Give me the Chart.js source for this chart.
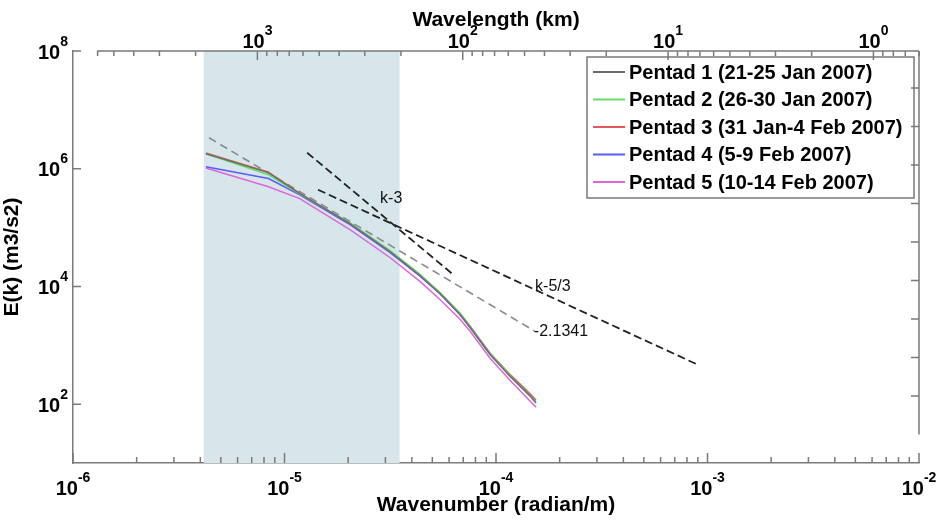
<!DOCTYPE html>
<html>
<head>
<meta charset="utf-8">
<script src="https://cdn.jsdelivr.net/npm/chart.js@4"></script>
<style>
  body { margin: 0; background: #fff; }
  canvas { display: block; }
</style>
</head>
<body>
<canvas id="myChart" width="938" height="525"></canvas>
<script>
// wavenumber (radian/m) sampled along the spectra
const wavenumber = [4.25e-6, 8.4e-6, 1.18e-5, 2.04e-5, 3.15e-5, 4.37e-5, 5.43e-5, 6.76e-5, 7.54e-5, 9.37e-5, 1.165e-4, 1.45e-4, 1.545e-4]

// E(k) (m3/s2) for each pentad
const pentad1 = [1.79e6, 8.6e5, 3.77e5, 1.17e5, 3.92e4, 1.53e4, 7.6e3, 3.35e3, 2.02e3, 703, 299, 137, 104]
const pentad2 = [1.8e6, 7.9e5, 3.7e5, 1.2e5, 4.1e4, 1.6e4, 7.9e3, 3.5e3, 2.1e3, 730, 310, 140, 108]
const pentad3 = [1.85e6, 8.7e5, 3.8e5, 1.18e5, 4.0e4, 1.58e4, 7.8e3, 3.5e3, 2.1e3, 740, 320, 150, 118]
const pentad4 = [1.08e6, 6.8e5, 3.6e5, 1.12e5, 3.8e4, 1.5e4, 7.5e3, 3.3e3, 2.0e3, 700, 300, 142, 110]
const pentad5 = [1.03e6, 4.95e5, 3.1e5, 9.25e4, 3.1e4, 1.22e4, 6.0e3, 2.76e3, 1.73e3, 603, 255, 112, 89]

const pentadLabels = [
  'Pentad 1 (21-25 Jan 2007)',
  'Pentad 2 (26-30 Jan 2007)',
  'Pentad 3 (31 Jan-4 Feb 2007)',
  'Pentad 4 (5-9 Feb 2007)',
  'Pentad 5 (10-14 Feb 2007)',
]
const pentadColors = ['#6e6e6e', '#66dd66', '#e05a5a', '#5a5aff', '#dd66dd']

// reference slopes (end points)
const k3K = [1.28e-5, 6.26e-5]
const k3E = [1.87e6, 1.6e4]
const k53K = [1.44e-5, 8.9e-4]
const k53E = [4.4e5, 476]
const fitK = [4.4e-6, 1.52e-4]
const fitE = [3.35e6, 1.75e3]

// slope labels
const noteText = ['k-3', 'k-5/3', '-2.1341']
const noteK = [2.83e-5, 1.53e-4, 1.51e-4]
const noteE = [3.09e5, 1.0e4, 1.73e3]

// shaded wavenumber band
const band = [4.15e-6, 3.5e-5]

const FONT = "'Liberation Sans', Arial, sans-serif"
const AXIS = '#7a7a7a'

const pts = (xs, ys) => xs.map((x, i) => ({ x, y: ys[i] }))

const pentads = [pentad1, pentad2, pentad3, pentad4, pentad5].map((p, i) => ({
  label: pentadLabels[i],
  data: pts(wavenumber, p),
  borderColor: pentadColors[i],
  borderWidth: 1.5,
  pointRadius: 0,
}))

const slopes = [
  { label: 'k-3', data: pts(k3K, k3E), borderColor: '#222', borderWidth: 1.8, borderDash: [8, 4], pointRadius: 0, ref: true },
  { label: 'k-5/3', data: pts(k53K, k53E), borderColor: '#222', borderWidth: 1.8, borderDash: [8, 4], pointRadius: 0, ref: true },
  { label: 'fit', data: pts(fitK, fitE), borderColor: '#8a8a8a', borderWidth: 1.6, borderDash: [8, 5], pointRadius: 0, ref: true },
]

function pow10(ctx, cx, y, exp, align) {
  ctx.font = 'bold 20px ' + FONT
  const wb = ctx.measureText('10').width
  ctx.font = 'bold 14px ' + FONT
  const we = ctx.measureText(String(exp)).width
  let x0 = align === 'right' ? cx - wb - we : cx - (wb + we) / 2
  ctx.fillStyle = '#000'
  ctx.textAlign = 'left'
  ctx.textBaseline = 'alphabetic'
  ctx.font = 'bold 20px ' + FONT
  ctx.fillText('10', x0, y)
  ctx.font = 'bold 14px ' + FONT
  ctx.fillText(String(exp), x0 + wb, y - 13)
}

const bandPlugin = {
  id: 'band',
  beforeDatasetsDraw(chart) {
    const { ctx, chartArea, scales } = chart
    const x0 = scales.x.getPixelForValue(band[0])
    const x1 = scales.x.getPixelForValue(band[1])
    ctx.save()
    ctx.fillStyle = '#d6e6eb'
    ctx.fillRect(x0, chartArea.top, x1 - x0, chartArea.bottom - chartArea.top)
    ctx.restore()
  },
}

const axesPlugin = {
  id: 'matlabAxes',
  afterDraw(chart) {
    const { ctx, chartArea: a, scales } = chart
    const { x, y, xTop, yR } = scales
    ctx.save()

    // slope labels
    ctx.fillStyle = '#111'
    ctx.font = '16px ' + FONT
    ctx.textAlign = 'left'
    ctx.textBaseline = 'middle'
    noteText.forEach((t, i) => {
      ctx.fillText(t, x.getPixelForValue(noteK[i]), y.getPixelForValue(noteE[i]))
    })

    // legend box
    const lx = 587, ly = 57, lw = 327, lh = 141
    ctx.fillStyle = '#fff'
    ctx.fillRect(lx, ly, lw, lh)
    ctx.strokeStyle = AXIS
    ctx.lineWidth = 1.5
    ctx.strokeRect(lx, ly, lw, lh)
    chart.data.datasets.filter(d => !d.ref).forEach((d, i) => {
      const ry = ly + 15 + i * 27.5
      ctx.strokeStyle = d.borderColor
      ctx.lineWidth = 2
      ctx.beginPath()
      ctx.moveTo(lx + 6, ry)
      ctx.lineTo(lx + 38, ry)
      ctx.stroke()
      ctx.fillStyle = '#000'
      ctx.font = 'bold 20px ' + FONT
      ctx.textBaseline = 'middle'
      ctx.fillText(d.label, lx + 42, ry + 1)
    })

    // spines not drawn by the library
    ctx.strokeStyle = AXIS
    ctx.lineWidth = 1.5
    ctx.beginPath()
    ctx.moveTo(97, a.top)
    ctx.lineTo(a.right, a.top)
    ctx.moveTo(a.right, a.top)
    ctx.lineTo(a.right, yR.getPixelForValue(1))
    ctx.stroke()

    // inward tick marks
    ctx.beginPath()
    for (let d = -6; d <= -2; d++) {
      for (let m = 1; m <= 9; m++) {
        const v = m * Math.pow(10, d)
        if (v > 1.0001e-2) break
        const px = x.getPixelForValue(v)
        const len = m === 1 ? 10 : 6
        ctx.moveTo(px, a.bottom)
        ctx.lineTo(px, a.bottom - len)
      }
    }
    for (let d = -1; d <= 3; d++) {
      for (let m = 1; m <= 9; m++) {
        const v = m * Math.pow(10, d)
        if (v < xTop.min || v > xTop.max) continue
        const px = xTop.getPixelForValue(v)
        if (px < 96) continue
        const len = m === 1 ? 9 : 5
        ctx.moveTo(px, a.top)
        ctx.lineTo(px, a.top + len)
      }
    }
    ;[2, 4, 6, 8].forEach(e => {
      const py = y.getPixelForValue(Math.pow(10, e))
      ctx.moveTo(a.left, py)
      ctx.lineTo(a.left + 8, py)
    })
    for (let v = 2; v <= 10; v++) {
      const py = yR.getPixelForValue(v)
      ctx.moveTo(a.right, py)
      ctx.lineTo(a.right - 8, py)
    }
    ctx.stroke()

    // tick labels
    for (let d = -6; d <= -2; d++) pow10(ctx, x.getPixelForValue(Math.pow(10, d)), 495, d)
    for (let d = 0; d <= 3; d++) pow10(ctx, xTop.getPixelForValue(Math.pow(10, d)), 48, d)
    ;[2, 4, 6, 8].forEach(e => pow10(ctx, 68, y.getPixelForValue(Math.pow(10, e)) + 7.5, e, 'right'))

    ctx.restore()
  },
}

const title = (text, pad) => ({
  display: true,
  text,
  color: '#000',
  font: { family: FONT, size: 21, weight: 'bold' },
  padding: pad,
})

new Chart(document.getElementById('myChart').getContext('2d'), {
  type: 'line',
  data: { datasets: [...pentads, ...slopes] },
  options: {
    responsive: false,
    animation: false,
    devicePixelRatio: 1,
    layout: { padding: 0 },
    plugins: { legend: { display: false }, tooltip: { enabled: false } },
    scales: {
      x: {
        type: 'logarithmic',
        position: 'bottom',
        min: 1e-6,
        max: 1e-2,
        ticks: { display: false },
        grid: { display: false, drawTicks: false },
        border: { display: true, color: AXIS, width: 1.5 },
        title: title('Wavenumber (radian/m)', { top: 0, bottom: 7 }),
        afterFit: s => { s.height = 62 },
      },
      xTop: {
        type: 'logarithmic',
        position: 'top',
        reverse: true,
        min: 0.625,
        max: 7907,
        ticks: { display: false },
        grid: { display: false, drawTicks: false },
        border: { display: false },
        title: title('Wavelength (km)', { top: 8, bottom: 0 }),
        afterFit: s => { s.height = 51 },
      },
      y: {
        type: 'logarithmic',
        position: 'left',
        min: 10,
        max: 1e8,
        ticks: { display: false },
        grid: { display: false, drawTicks: false },
        border: { display: true, color: AXIS, width: 1.5 },
        title: title('E(k) (m3/s2)', { top: 0, bottom: 12 }),
        afterFit: s => { s.width = 73 },
      },
      yR: {
        type: 'linear',
        position: 'right',
        min: 0.26,
        max: 10.96,
        ticks: { display: false },
        grid: { display: false, drawTicks: false },
        border: { display: false },
        afterFit: s => { s.width = 19 },
      },
    },
  },
  plugins: [bandPlugin, axesPlugin],
})
</script>
</body>
</html>
